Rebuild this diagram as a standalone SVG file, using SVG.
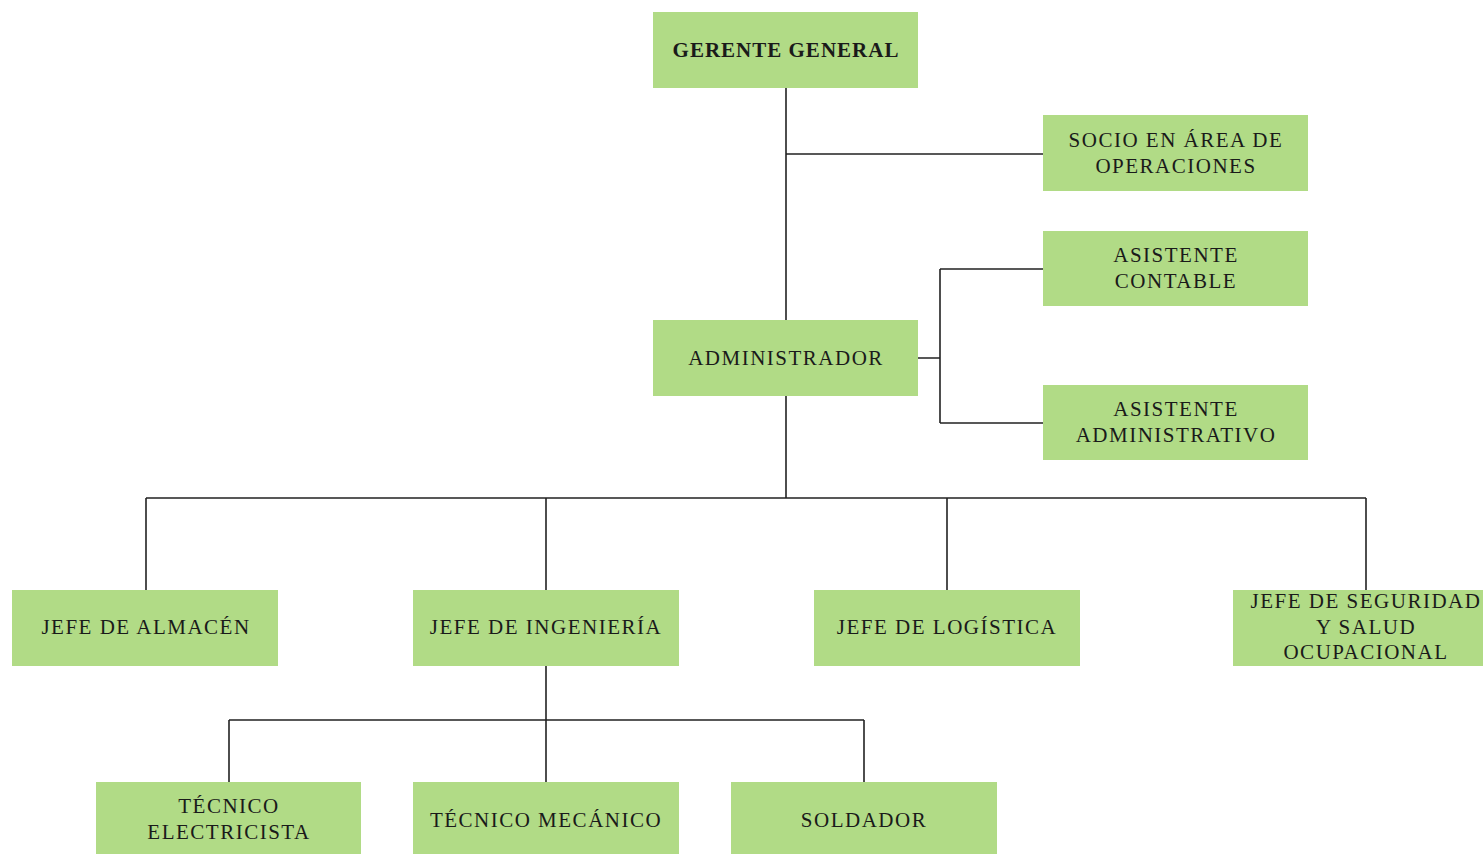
<svg xmlns="http://www.w3.org/2000/svg" width="1483" height="854" viewBox="0 0 1483 854">
<style>
.box{fill:#b1db86;}
.t{font-size:21px;letter-spacing:1.5px;fill:#1a1a1a;text-anchor:middle;}
.b{font-weight:bold;letter-spacing:1px;}
.c{stroke:#222;stroke-width:1.6;fill:none;}
</style>
<rect width="1483" height="854" fill="#ffffff"/>
<g id="connectors">
<path class="c" d="M786 88V320M786 154H1043"/>
<path class="c" d="M918 358H940M940 269V423M940 269H1043M940 423H1043"/>
<path class="c" d="M786 396V498M146 498H1366M146 498V590M546 498V590M947 498V590M1366 498V590"/>
<path class="c" d="M546 666V782M229 720H864M229 720V782M864 720V782"/>
</g>
<g font-family="Liberation Serif, DejaVu Serif, serif">
<g id="gerente"><rect class="box" x="653" y="12" width="265" height="76"/><text class="t b" x="786" y="57">GERENTE GENERAL</text></g>
<g id="socio"><rect class="box" x="1043" y="115" width="265" height="76"/><text class="t" x="1176" y="147">SOCIO EN ÁREA DE</text><text class="t" x="1176" y="173">OPERACIONES</text></g>
<g id="asistente-contable"><rect class="box" x="1043" y="231" width="265" height="75"/><text class="t" x="1176" y="262">ASISTENTE</text><text class="t" x="1176" y="288">CONTABLE</text></g>
<g id="administrador"><rect class="box" x="653" y="320" width="265" height="76"/><text class="t" x="786" y="365">ADMINISTRADOR</text></g>
<g id="asistente-administrativo"><rect class="box" x="1043" y="385" width="265" height="75"/><text class="t" x="1176" y="416">ASISTENTE</text><text class="t" x="1176" y="442">ADMINISTRATIVO</text></g>
<g id="jefe-almacen"><rect class="box" x="12" y="590" width="266" height="76"/><text class="t" x="146" y="634">JEFE DE ALMACÉN</text></g>
<g id="jefe-ingenieria"><rect class="box" x="413" y="590" width="266" height="76"/><text class="t" x="546" y="634">JEFE DE INGENIERÍA</text></g>
<g id="jefe-logistica"><rect class="box" x="814" y="590" width="266" height="76"/><text class="t" x="947" y="634">JEFE DE LOGÍSTICA</text></g>
<g id="jefe-seguridad"><rect class="box" x="1233" y="590" width="266" height="76"/><text class="t" x="1366" y="608">JEFE DE SEGURIDAD</text><text class="t" x="1366" y="634">Y SALUD</text><text class="t" x="1366" y="659">OCUPACIONAL</text></g>
<g id="tecnico-electricista"><rect class="box" x="96" y="782" width="265" height="76"/><text class="t" x="229" y="813">TÉCNICO</text><text class="t" x="229" y="839">ELECTRICISTA</text></g>
<g id="tecnico-mecanico"><rect class="box" x="413" y="782" width="266" height="76"/><text class="t" x="546" y="827">TÉCNICO MECÁNICO</text></g>
<g id="soldador"><rect class="box" x="731" y="782" width="266" height="76"/><text class="t" x="864" y="827">SOLDADOR</text></g>
</g>
</svg>
